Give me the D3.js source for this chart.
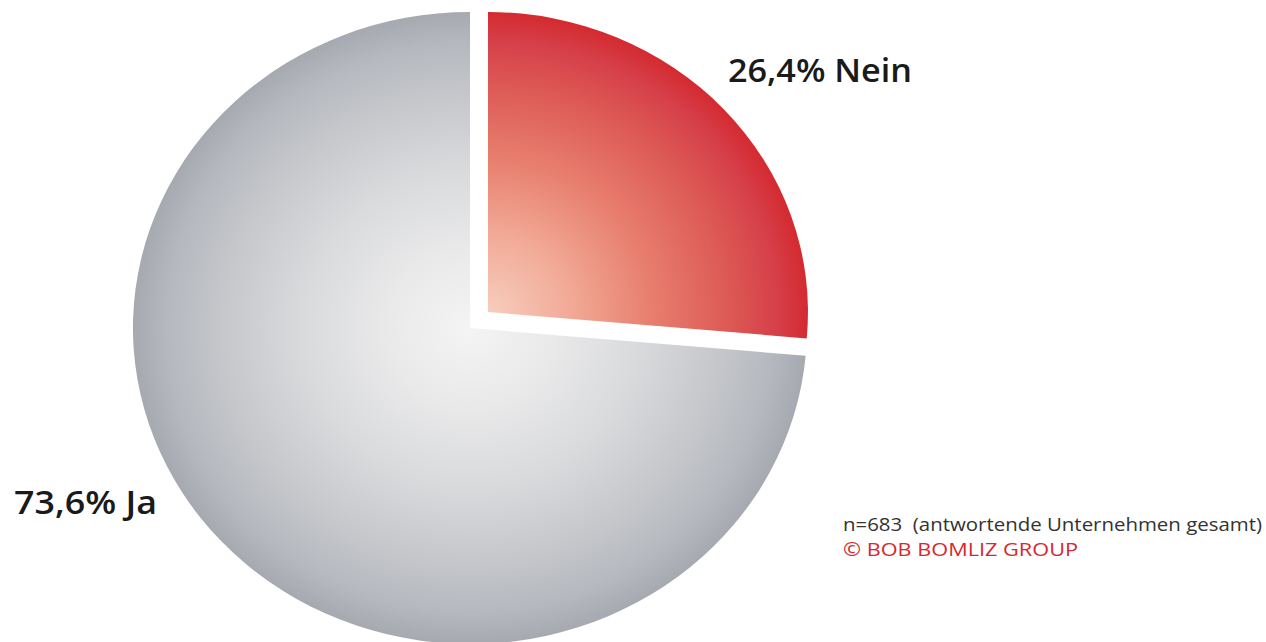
<!DOCTYPE html>
<html>
<head>
<meta charset="utf-8">
<script src="https://cdn.jsdelivr.net/npm/d3@7/dist/d3.min.js"></script>
<style>
  html, body { margin: 0; padding: 0; background: #ffffff; }
  svg { display: block; }
</style>
</head>
<body>
<script>
// ---- data ----
const categories = ["Nein", "Ja"];
const values = [26.4, 73.6];
const labels = ["26,4% Nein", "73,6% Ja"];
const footnote = "n=683  (antwortende Unternehmen gesamt)";
const copyright = "© BOB BOMLIZ GROUP";

const W = 1266, H = 642;
const svg = d3.select("body").append("svg").attr("width", W).attr("height", H);
const defs = svg.append("defs");

// gradients
const gGray = defs.append("radialGradient").attr("id", "gradGray")
  .attr("gradientUnits", "userSpaceOnUse").attr("cx", 0).attr("cy", 0).attr("r", 1);
[[0, "#f4f4f4"], [0.25, "#e9e9ea"], [0.5, "#d9dadc"], [0.75, "#c4c6ca"], [0.9, "#b5b8be"], [1, "#a6a9b0"]]
  .forEach(([o, c]) => gGray.append("stop").attr("offset", o).attr("stop-color", c));

const gRed = defs.append("radialGradient").attr("id", "gradRed")
  .attr("gradientUnits", "userSpaceOnUse").attr("cx", 0).attr("cy", 0).attr("r", 1);
[[0, "#f7cdbd"], [0.25, "#f2ab98"], [0.5, "#e8806f"], [0.75, "#dd5a55"], [0.9, "#d6404a"], [1, "#d42a30"]]
  .forEach(([o, c]) => gRed.append("stop").attr("offset", o).attr("stop-color", c));

const pie = d3.pie().sort(null).value(d => d)
  .startAngle(0).endAngle(2 * Math.PI);
const arcs = pie(values);
const arcGen = d3.arc().innerRadius(0).outerRadius(1);

// geometry per slice: centre and radii (explode + slightly smaller red slice)
const geom = [
  { cx: 488, cy: 312, rx: 320, ry: 300, fill: "url(#gradRed)" },
  { cx: 470, cy: 328, rx: 337, ry: 316, fill: "url(#gradGray)" }
];

svg.selectAll("path.slice").data(arcs).enter().append("path")
  .attr("class", "slice")
  .attr("transform", (d, i) => `translate(${geom[i].cx},${geom[i].cy}) scale(${geom[i].rx},${geom[i].ry})`)
  .attr("d", arcGen)
  .attr("fill", (d, i) => geom[i].fill);

// labels
const labelPos = [
  { x: 728, y: 82, w: 184 },
  { x: 14, y: 514, w: 143 }
];
svg.selectAll("text.lbl").data(labels).enter().append("text")
  .attr("class", "lbl")
  .attr("x", (d, i) => labelPos[i].x)
  .attr("y", (d, i) => labelPos[i].y)
  .attr("textLength", (d, i) => labelPos[i].w)
  .attr("lengthAdjust", "spacingAndGlyphs")
  .attr("font-family", "'Open Sans', 'DejaVu Sans', sans-serif")
  .attr("font-weight", 600)
  .attr("font-size", 32)
  .attr("fill", "#1a1a1a")
  .text(d => d);

svg.append("text")
  .attr("x", 843).attr("y", 531)
  .attr("textLength", 419).attr("lengthAdjust", "spacingAndGlyphs")
  .attr("font-family", "'Open Sans', 'DejaVu Sans', sans-serif")
  .attr("font-size", 18)
  .attr("fill", "#333333")
  .style("white-space", "pre")
  .text(footnote);

svg.append("text")
  .attr("x", 843).attr("y", 556)
  .attr("textLength", 235).attr("lengthAdjust", "spacingAndGlyphs")
  .attr("font-family", "'Open Sans', 'DejaVu Sans', sans-serif")
  .attr("font-size", 19)
  .attr("fill", "#d42a30")
  .text(copyright);
</script>
</body>
</html>
